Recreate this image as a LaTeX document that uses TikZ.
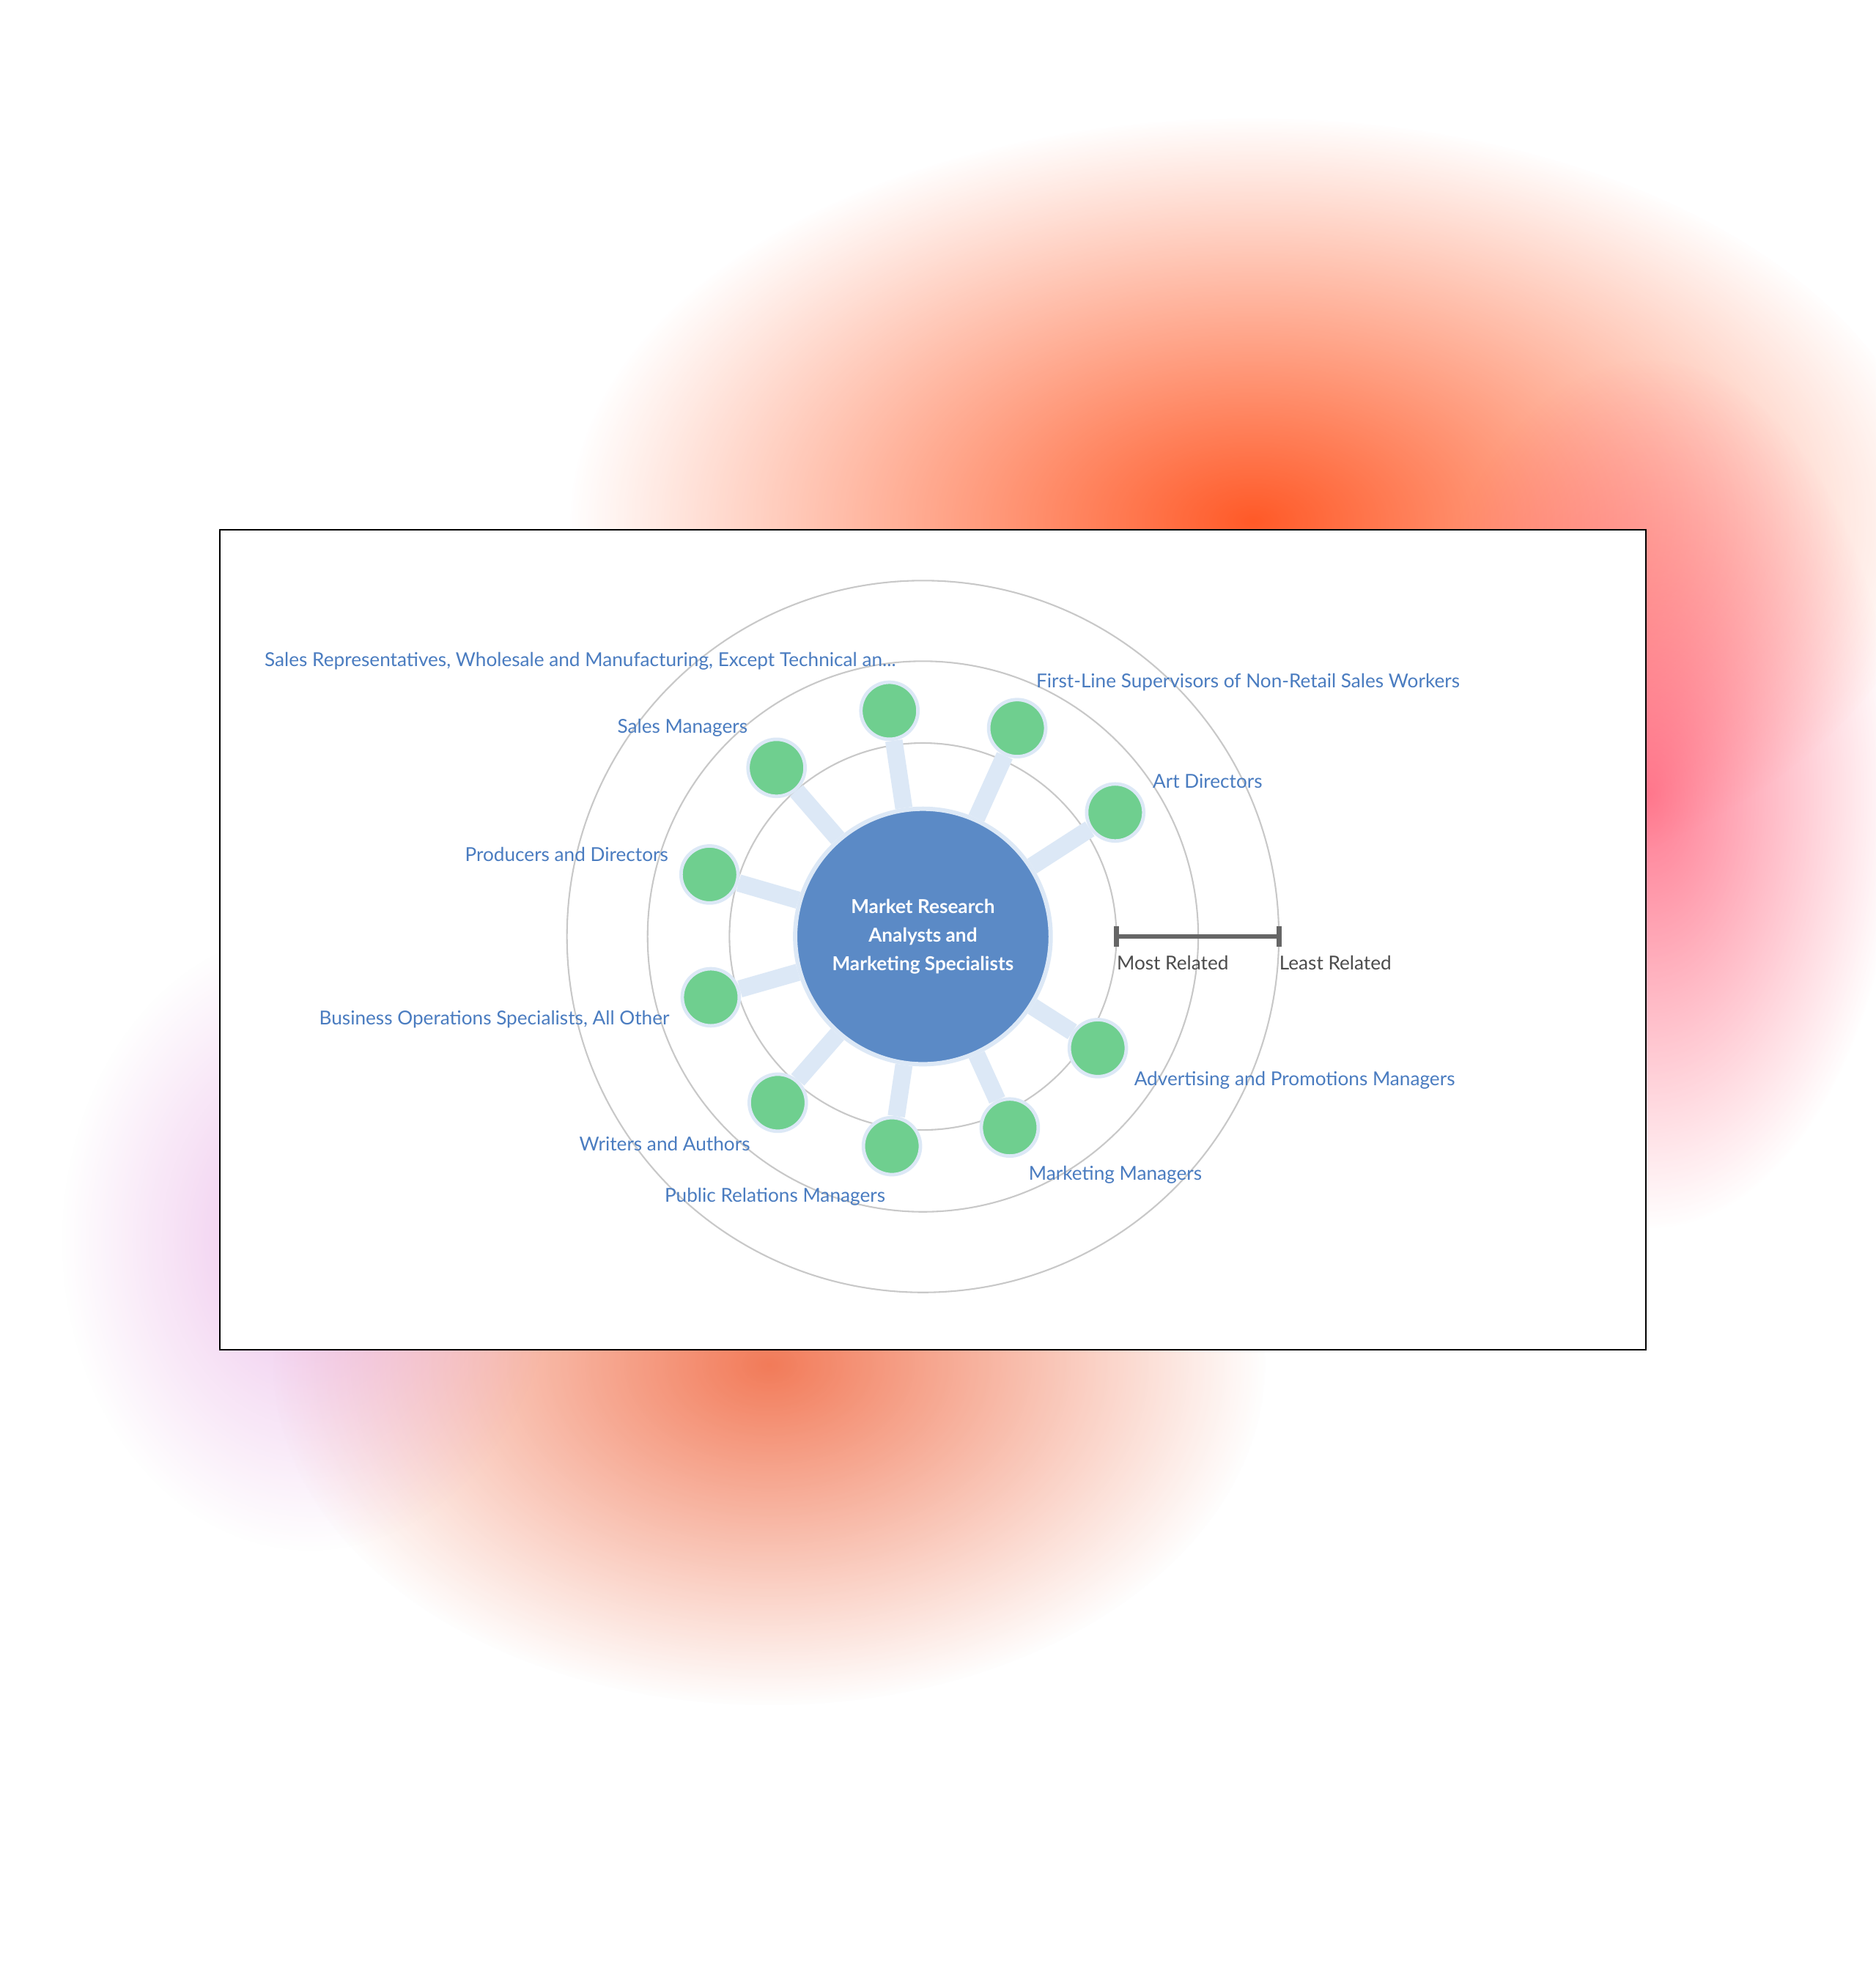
\documentclass[tikz,border=0pt]{standalone}
\usepackage{fontspec}
\setmainfont{Lato}
\usetikzlibrary{fadings,backgrounds}
\tikzfading[name=blobfade, inner color=transparent!0, outer color=transparent!100]
\definecolor{lbl}{HTML}{4A7CC0}
\definecolor{hub}{HTML}{5B8AC6}
\definecolor{leafc}{HTML}{6FCF8F}
\definecolor{spk}{HTML}{DCE8F6}
\definecolor{ring}{HTML}{C8C8C8}
\tikzset{
  leaf/.style={circle,fill=leafc,draw=spk,line width=1.6pt,minimum size=0.92cm,inner sep=0pt},
  spoke/.style={spk,line width=0.28cm},
  lab/.style={text=lbl,font=\fontsize{8.8}{11}\selectfont,inner sep=0pt},
  gl/.style={text=black!70,font=\fontsize{8.8}{11}\selectfont,inner sep=0pt},
  ringst/.style={draw=ring,line width=0.7pt},
  blob/.style={path fading=blobfade,fit fading=true}
}
\begin{document}
\begin{tikzpicture}[x=0.02cm,y=-0.02cm]
\useasboundingbox (0,0) rectangle (1512,1585);
\node[circle,fill=hub,draw=spk,line width=2pt,minimum size=4.12cm,inner sep=0pt,text=white,align=center,font=\fontsize{8.8}{13.2}\selectfont\bfseries] (c) at (744,755) {Market Research\\Analysts and\\Marketing Specialists};
\node[leaf] (n1) at (717,573) {};
\node[leaf] (n2) at (820,587) {};
\node[leaf] (n3) at (899,655) {};
\node[leaf] (n4) at (626,619) {};
\node[leaf] (n5) at (572,705) {};
\node[leaf] (n6) at (573,804) {};
\node[leaf] (n7) at (627,889) {};
\node[leaf] (n8) at (719,924) {};
\node[leaf] (n9) at (814,909) {};
\node[leaf] (n10) at (885,845) {};
\begin{pgfonlayer}{background}
\fill[white] (0,0) rectangle (1512,1585);
\fill[color={rgb,255:red,255;green,90;blue,40},blob] (1010,420) ellipse (11cm and 6.5cm);
\fill[color={rgb,255:red,255;green,80;blue,110},opacity=0.75,blob] (1330,640) ellipse (4cm and 7cm);
\fill[color={rgb,255:red,240;green,100;blue,60},opacity=0.85,blob] (620,1100) ellipse (8cm and 5.5cm);
\fill[color={rgb,255:red,220;green,130;blue,215},opacity=0.5,blob] (250,1000) ellipse (4cm and 5cm);
\filldraw[fill=white,draw=black,line width=0.7pt] (177,427) rectangle (1327,1088);
\draw[ringst] (c.center) circle (3.12cm);
\draw[ringst] (c.center) circle (4.44cm);
\draw[ringst] (c.center) circle (5.74cm);
\foreach \n in {n1,n2,n3,n4,n5,n6,n7,n8,n9,n10} \draw[spoke] (c) -- (\n);
\end{pgfonlayer}
\node[lab,anchor=west] at (213,533) {Sales Representatives, Wholesale and Manufacturing, Except Technical an...};
\node[lab,anchor=west] at (835,550) {First-Line Supervisors of Non-Retail Sales Workers};
\node[lab,anchor=west] at (929,630) {Art Directors};
\node[lab,anchor=east] at (603,587) {Sales Managers};
\node[lab,anchor=east] at (539,689) {Producers and Directors};
\node[lab,anchor=east] at (540,822) {Business Operations Specialists, All Other};
\node[lab,anchor=east] at (605,922) {Writers and Authors};
\node[lab,anchor=east] at (714,965) {Public Relations Managers};
\node[lab,anchor=west] at (829,947) {Marketing Managers};
\node[lab,anchor=west] at (914,871) {Advertising and Promotions Managers};
\coordinate (s1) at (900,755);
\coordinate (s2) at (1031,755);
\draw[black!60,line width=2.2pt] (s1) -- (s2);
\draw[black!60,line width=2.2pt] ([yshift=-0.16cm]s1) -- ([yshift=0.16cm]s1);
\draw[black!60,line width=2.2pt] ([yshift=-0.16cm]s2) -- ([yshift=0.16cm]s2);
\node[gl,anchor=west] at (900,776) {Most Related};
\node[gl,anchor=west] at (1031,776) {Least Related};
\end{tikzpicture}
\end{document}
